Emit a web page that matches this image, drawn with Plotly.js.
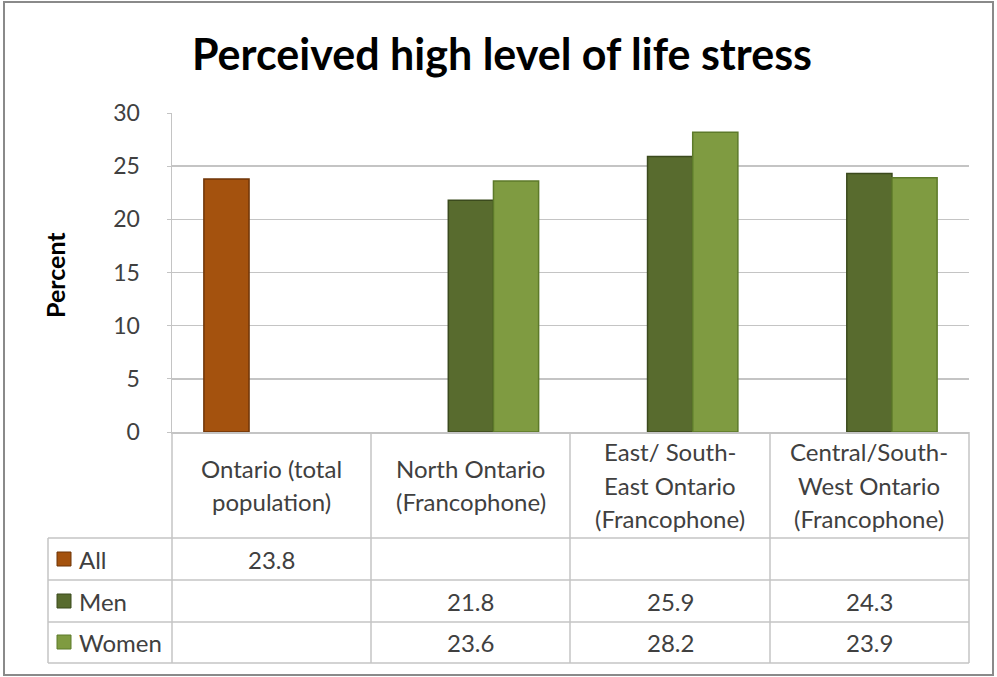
<!DOCTYPE html>
<html>
<head>
<meta charset="utf-8">
<script src="https://cdn.plot.ly/plotly-3.0.1.min.js"></script>
<style>html,body{margin:0;padding:0;background:#fff;}#chart{width:997px;height:677px;}</style>
</head>
<body>
<div id="chart"></div>
<script>
// ---- data ----
var categories = ["Ontario (total population)", "North Ontario (Francophone)", "East/ South-East Ontario (Francophone)", "Central/South-West Ontario (Francophone)"];
var categoryLines = [["Ontario (total", "population)"], ["North Ontario", "(Francophone)"], ["East/ South-", "East Ontario", "(Francophone)"], ["Central/South-", "West Ontario", "(Francophone)"]];
var seriesNames = ["All", "Men", "Women"];
var allValues = [23.8, null, null, null];
var menValues = [null, 21.8, 25.9, 24.3];
var womenValues = [null, 23.6, 28.2, 23.9];
var yTicks = [0, 5, 10, 15, 20, 25, 30];

// ---- layout helpers (pixel -> paper) ----
var L = 172, R = 969, T = 113, B = 432;
function px(x) { return (x - L) / (R - L); }
function py(y) { return (B - y) / (B - T); }

var seriesValues = [allValues, menValues, womenValues];
var fills = ["#A4520E", "#586B2E", "#7F9B41"];
var edges = ["#6f3507", "#3b4a1d", "#5d7a2a"];
var textColor = "#404040";
var FONT = "Lato, 'Open Sans', sans-serif";

var traces = seriesNames.map(function (n, i) {
  return {
    type: "bar", name: n, x: categories, y: seriesValues[i],
    marker: { color: fills[i], line: { color: edges[i], width: 1.5 } },
    hoverinfo: "skip"
  };
});

var shapes = [];
var annotations = [];
var lineColor = "#c4c4c4";
function hline(x0, x1, y) { shapes.push({ type: "line", xref: "paper", yref: "paper", x0: px(x0), x1: px(x1), y0: py(y), y1: py(y), line: { color: lineColor, width: 1.5 } }); }
function vline(x, y0, y1) { shapes.push({ type: "line", xref: "paper", yref: "paper", x0: px(x), x1: px(x), y0: py(y0), y1: py(y1), line: { color: lineColor, width: 1.5 } }); }

// outer chart frame
shapes.push({ type: "rect", xref: "paper", yref: "paper", x0: px(4), x1: px(993), y0: py(2), y1: py(675), line: { color: "#8a8a8a", width: 2 }, layer: "below" });

// data table grid
var rowY = [538, 580, 622, 663];
var colX = [172, 371, 570, 770, 969];
colX.forEach(function (x) { vline(x, 432, 663); });
vline(48, 538, 663);
rowY.forEach(function (y) { hline(48, 969, y); });

// category header labels (line by line)
var headerCenter = 485, lineStep = 33.5;
categoryLines.forEach(function (lines, c) {
  var n = lines.length;
  lines.forEach(function (t, k) {
    var yy = headerCenter + (k - (n - 1) / 2) * lineStep;
    annotations.push({ xref: "x", yref: "paper", x: categories[c], y: py(yy), text: t, showarrow: false, xanchor: "center", yanchor: "middle", font: { family: FONT, size: 24, color: textColor } });
  });
});

// legend keys + series names + values
var rowCenters = [559, 601, 642];
seriesNames.forEach(function (n, i) {
  shapes.push({ type: "rect", xref: "paper", yref: "paper", x0: px(57), x1: px(71), y0: py(rowCenters[i] - 7), y1: py(rowCenters[i] + 7), fillcolor: fills[i], line: { color: edges[i], width: 1 } });
  annotations.push({ xref: "paper", yref: "paper", x: px(77), y: py(rowCenters[i]), text: n, showarrow: false, xanchor: "left", yanchor: "middle", font: { family: FONT, size: 24, color: textColor } });
  seriesValues[i].forEach(function (v, c) {
    if (v === null) return;
    annotations.push({ xref: "x", yref: "paper", x: categories[c], y: py(rowCenters[i]), text: v.toFixed(1), showarrow: false, xanchor: "center", yanchor: "middle", font: { family: FONT, size: 24, color: textColor } });
  });
});

// y-axis title
annotations.push({ xref: "paper", yref: "paper", x: px(55), y: py(275), text: "<b>Percent</b>", textangle: -90, showarrow: false, xanchor: "center", yanchor: "middle", font: { family: FONT, size: 25, color: "#000" } });

var layout = {
  width: 997, height: 677,
  margin: { l: L, r: 997 - R, t: T, b: 677 - B, pad: 0 },
  paper_bgcolor: "#fff", plot_bgcolor: "#fff",
  title: { text: "<b>Perceived high level of life stress</b>", x: px(502), xref: "paper", xanchor: "center", y: 1 - 55 / 677, yanchor: "middle", font: { family: FONT, size: 43, color: "#000" } },
  showlegend: false,
  barmode: "group", bargap: 0.32, bargroupgap: 0,
  xaxis: { type: "category", range: [-0.5, 3.5], showticklabels: false, showgrid: false, zeroline: false, showline: true, linecolor: lineColor, linewidth: 1.5, ticks: "" },
  yaxis: { range: [0, 30], tickvals: yTicks, ticktext: yTicks.map(String), showgrid: true, gridcolor: lineColor, gridwidth: 1.5, zeroline: false, showline: true, linecolor: lineColor, linewidth: 1.5, ticks: "outside", ticklen: 4, tickcolor: lineColor, ticklabelstandoff: 22, tickfont: { family: FONT, size: 23, color: textColor } },
  shapes: shapes,
  annotations: annotations
};

Plotly.newPlot("chart", traces, layout, { staticPlot: true, displayModeBar: false });
</script>
</body>
</html>
